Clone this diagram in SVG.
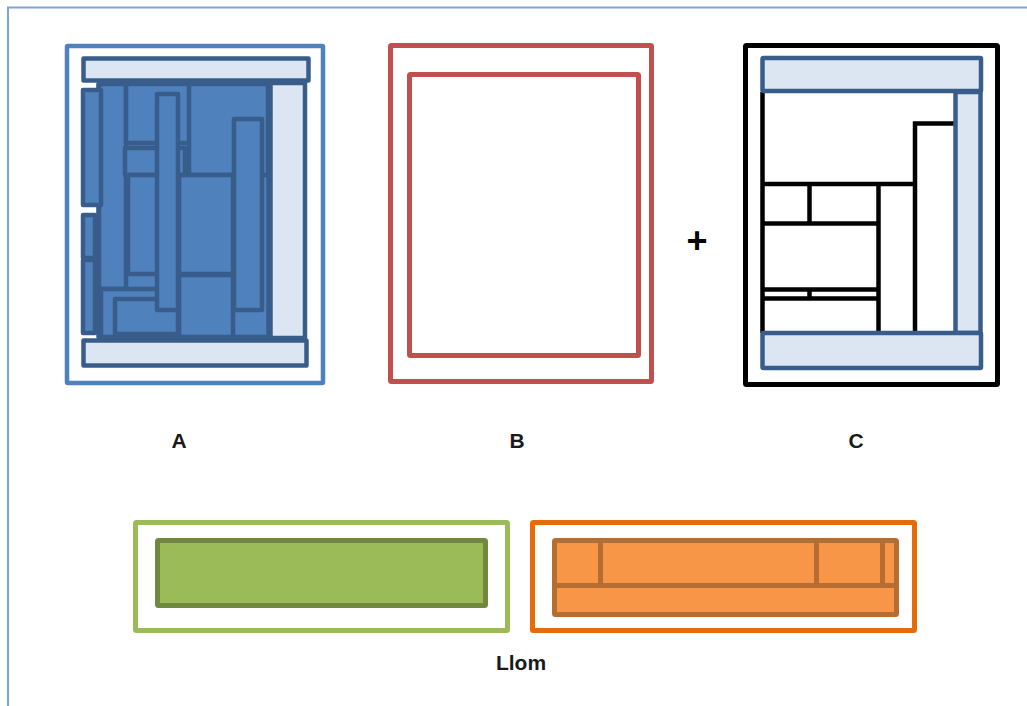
<svg xmlns="http://www.w3.org/2000/svg" width="1027" height="706" viewBox="0 0 1027 706">
<style>
.frame{fill:none;stroke:#7FA3D3;stroke-width:2}
.bl{fill:#4F81BD;stroke:#385D8A;stroke-width:4.5;stroke-linejoin:round}
.lt{fill:#DCE6F2;stroke:#385D8A;stroke-width:4.5;stroke-linejoin:round}
.ln{stroke:#000;stroke-width:4.5;fill:none}
.lbl{font-family:"Liberation Sans",Arial,sans-serif;font-weight:bold;font-size:21px;fill:#1a1a1a;text-anchor:middle}
</style>
<rect width="1027" height="706" fill="#fff"/>
<path class="frame" d="M8 706 V7.5 H1027"/>

<g id="panelA">
<rect x="67" y="46" width="256" height="337" fill="none" stroke="#4F81BD" stroke-width="4.5" rx="1"/>
<rect class="bl" x="98.5" y="84" width="170" height="253"/>
<rect class="bl" x="99" y="84" width="27" height="205"/>
<rect class="bl" x="126" y="84" width="64" height="59"/>
<rect class="bl" x="189" y="84" width="79" height="91"/>
<rect class="bl" x="125" y="148" width="60" height="27"/>
<rect class="bl" x="128" y="175" width="50" height="99"/>
<rect class="bl" x="179" y="175" width="54" height="99"/>
<rect class="bl" x="179" y="275" width="54" height="62"/>
<rect class="bl" x="101" y="289" width="77" height="48"/>
<rect class="bl" x="115" y="299" width="63" height="35"/>
<rect class="bl" x="157" y="94" width="21" height="216"/>
<rect class="bl" x="234" y="119" width="28" height="191"/>
<rect class="bl" x="83" y="90" width="18" height="115"/>
<rect class="bl" x="83" y="215" width="12" height="43"/>
<rect class="bl" x="83" y="260" width="12" height="73"/>
<rect class="lt" x="270.5" y="83" width="34.5" height="255"/>
<rect class="lt" x="83.5" y="58.5" width="225" height="22"/>
<rect class="lt" x="83.5" y="340.5" width="223" height="25"/>
</g>

<g id="panelB">
<rect x="390.5" y="45.5" width="261" height="336" fill="none" stroke="#C0504D" stroke-width="5" rx="1"/>
<rect x="409.5" y="74.5" width="229" height="281" fill="none" stroke="#C0504D" stroke-width="5" rx="1"/>
</g>

<text id="plus" x="697" y="253" font-family="Liberation Sans,Arial,sans-serif" font-weight="bold" font-size="36" text-anchor="middle" fill="#000">+</text>

<g id="panelC">
<rect x="745.5" y="45.5" width="252" height="339" fill="none" stroke="#000" stroke-width="5" rx="1"/>
<path class="ln" d="M762.5 92 V333"/>
<path class="ln" d="M915 331 V123.5 H954"/>
<path class="ln" d="M762 184 H917"/>
<path class="ln" d="M878.5 184 V333"/>
<path class="ln" d="M809.5 184 V223.5"/>
<path class="ln" d="M762 223.5 H878"/>
<path class="ln" d="M762 289.5 H878"/>
<path class="ln" d="M762 298.5 H878"/>
<path class="ln" d="M809.5 289 V298"/>
<rect class="lt" x="955.5" y="92" width="25" height="241"/>
<rect class="lt" x="762.5" y="58" width="218.5" height="33" rx="1"/>
<rect class="lt" x="762.5" y="333" width="218.5" height="35" rx="1"/>
</g>

<g id="labels">
<text class="lbl" x="179" y="448">A</text>
<text class="lbl" x="517" y="448">B</text>
<text class="lbl" x="856" y="448">C</text>
<text class="lbl" x="521" y="670">Llom</text>
</g>

<g id="llomGreen">
<rect x="135.5" y="522.5" width="372" height="108" fill="none" stroke="#9BBB59" stroke-width="5" rx="1"/>
<rect x="157.5" y="540.5" width="328" height="65" fill="#9BBB59" stroke="#71893F" stroke-width="5" rx="1"/>
</g>

<g id="llomOrange">
<rect x="532.5" y="522.5" width="382" height="108" fill="none" stroke="#E46C0A" stroke-width="5" rx="1"/>
<rect x="554.5" y="540.5" width="342" height="74" fill="#F79646" stroke="#B66D31" stroke-width="5" rx="1"/>
<path d="M555 585.5 H896 M600.5 541 V585 M816.5 541 V585 M882.5 541 V585" stroke="#B66D31" stroke-width="5" fill="none"/>
</g>

<g id="connectors"></g>
</svg>
